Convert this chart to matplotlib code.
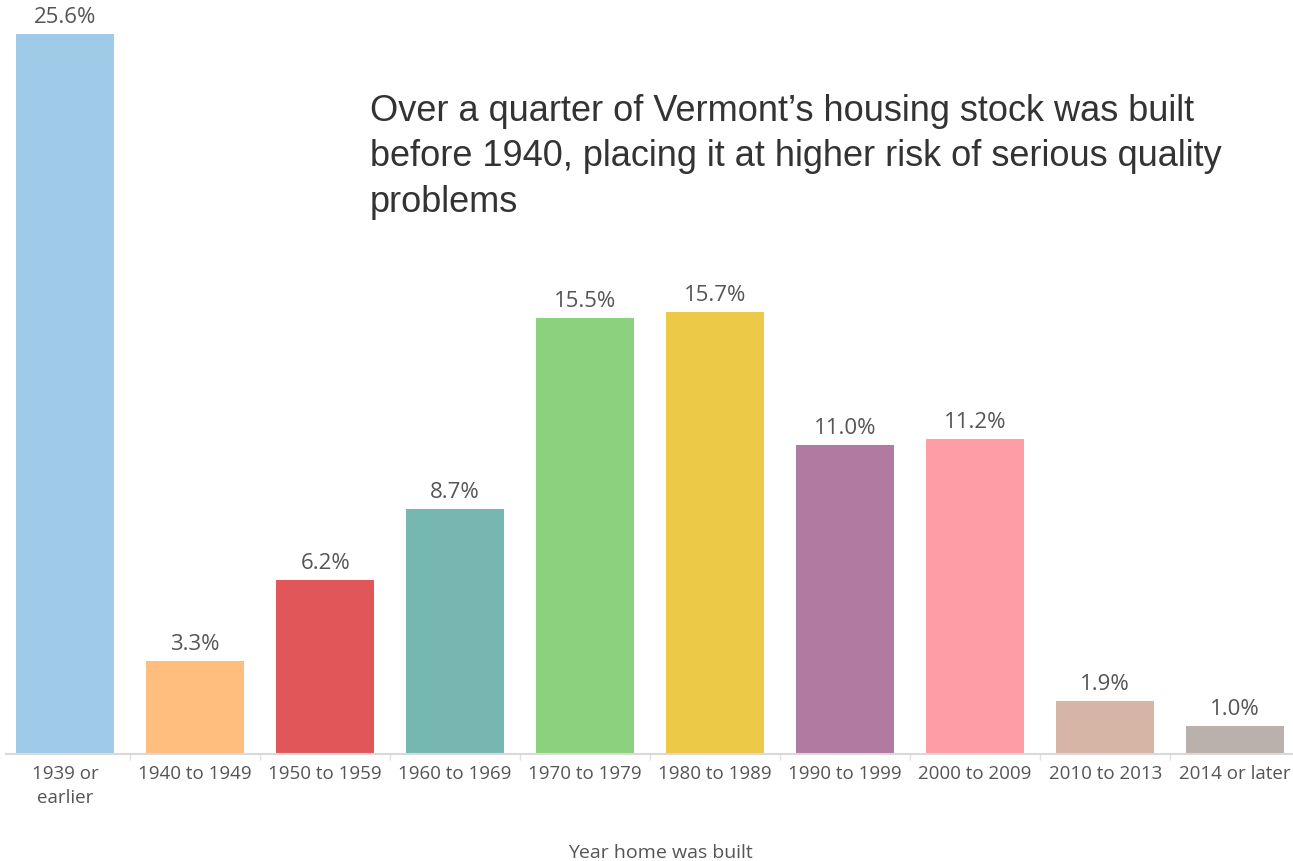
import matplotlib.pyplot as plt
import numpy as np

# data
categories = ['1939 or\nearlier', '1940 to 1949', '1950 to 1959', '1960 to 1969',
              '1970 to 1979', '1980 to 1989', '1990 to 1999', '2000 to 2009',
              '2010 to 2013', '2014 or later']
shares = [25.6, 3.3, 6.2, 8.7, 15.5, 15.7, 11.0, 11.2, 1.9, 1.0]
colours = ['#A0CBE8', '#FFBE7D', '#E15759', '#76B7B2', '#8CD17D',
           '#EDC948', '#B07AA1', '#FF9DA7', '#D7B5A6', '#BAB0AC']

W, H = 1293, 862
fig = plt.figure(figsize=(W / 100, H / 100), dpi=100)
ax = fig.add_axes([6 / W, (H - 755) / H, 1287 / W, 755 / H])

x = np.arange(len(categories))
bars = ax.bar(x, shares, width=0.75, color=colours)

# value labels above bars
for b, v in zip(bars, shares):
    ax.annotate(f'{v:.1f}%', (b.get_x() + b.get_width() / 2, v),
                xytext=(0, 5), textcoords='offset points',
                ha='center', va='bottom', fontsize=16, color='#555555',
                family='Open Sans')

ax.set_xlim(-0.455, 9.445)
ax.set_ylim(0, 26.84)
ax.set_yticks([])
ax.set_xticks(x)
ax.set_xticklabels(categories, fontsize=13.5, color='#555555', family='Open Sans',
                   linespacing=1.45)
ax.tick_params(axis='x', which='major', length=0, pad=7)
# small separators between categories
ax.set_xticks(x[:-1] + 0.5, minor=True)
ax.tick_params(axis='x', which='minor', length=4, color='#e0e0e0', width=1)

for s in ['top', 'right', 'left']:
    ax.spines[s].set_visible(False)
ax.spines['bottom'].set_color('#d9d9d9')
ax.spines['bottom'].set_linewidth(1.5)

fig.text(660 / W, (H - 853) / H, 'Year home was built', ha='center', va='center',
         fontsize=14, color='#555555', family='Open Sans')

fig.text(370 / W, (H - 94) / H,
         'Over a quarter of Vermont\u2019s housing stock was built\n'
         'before 1940, placing it at higher risk of serious quality\n'
         'problems',
         ha='left', va='top', fontsize=26, color='#333333',
         family='Liberation Sans', linespacing=1.38)

fig.savefig('out.png', dpi=100)
